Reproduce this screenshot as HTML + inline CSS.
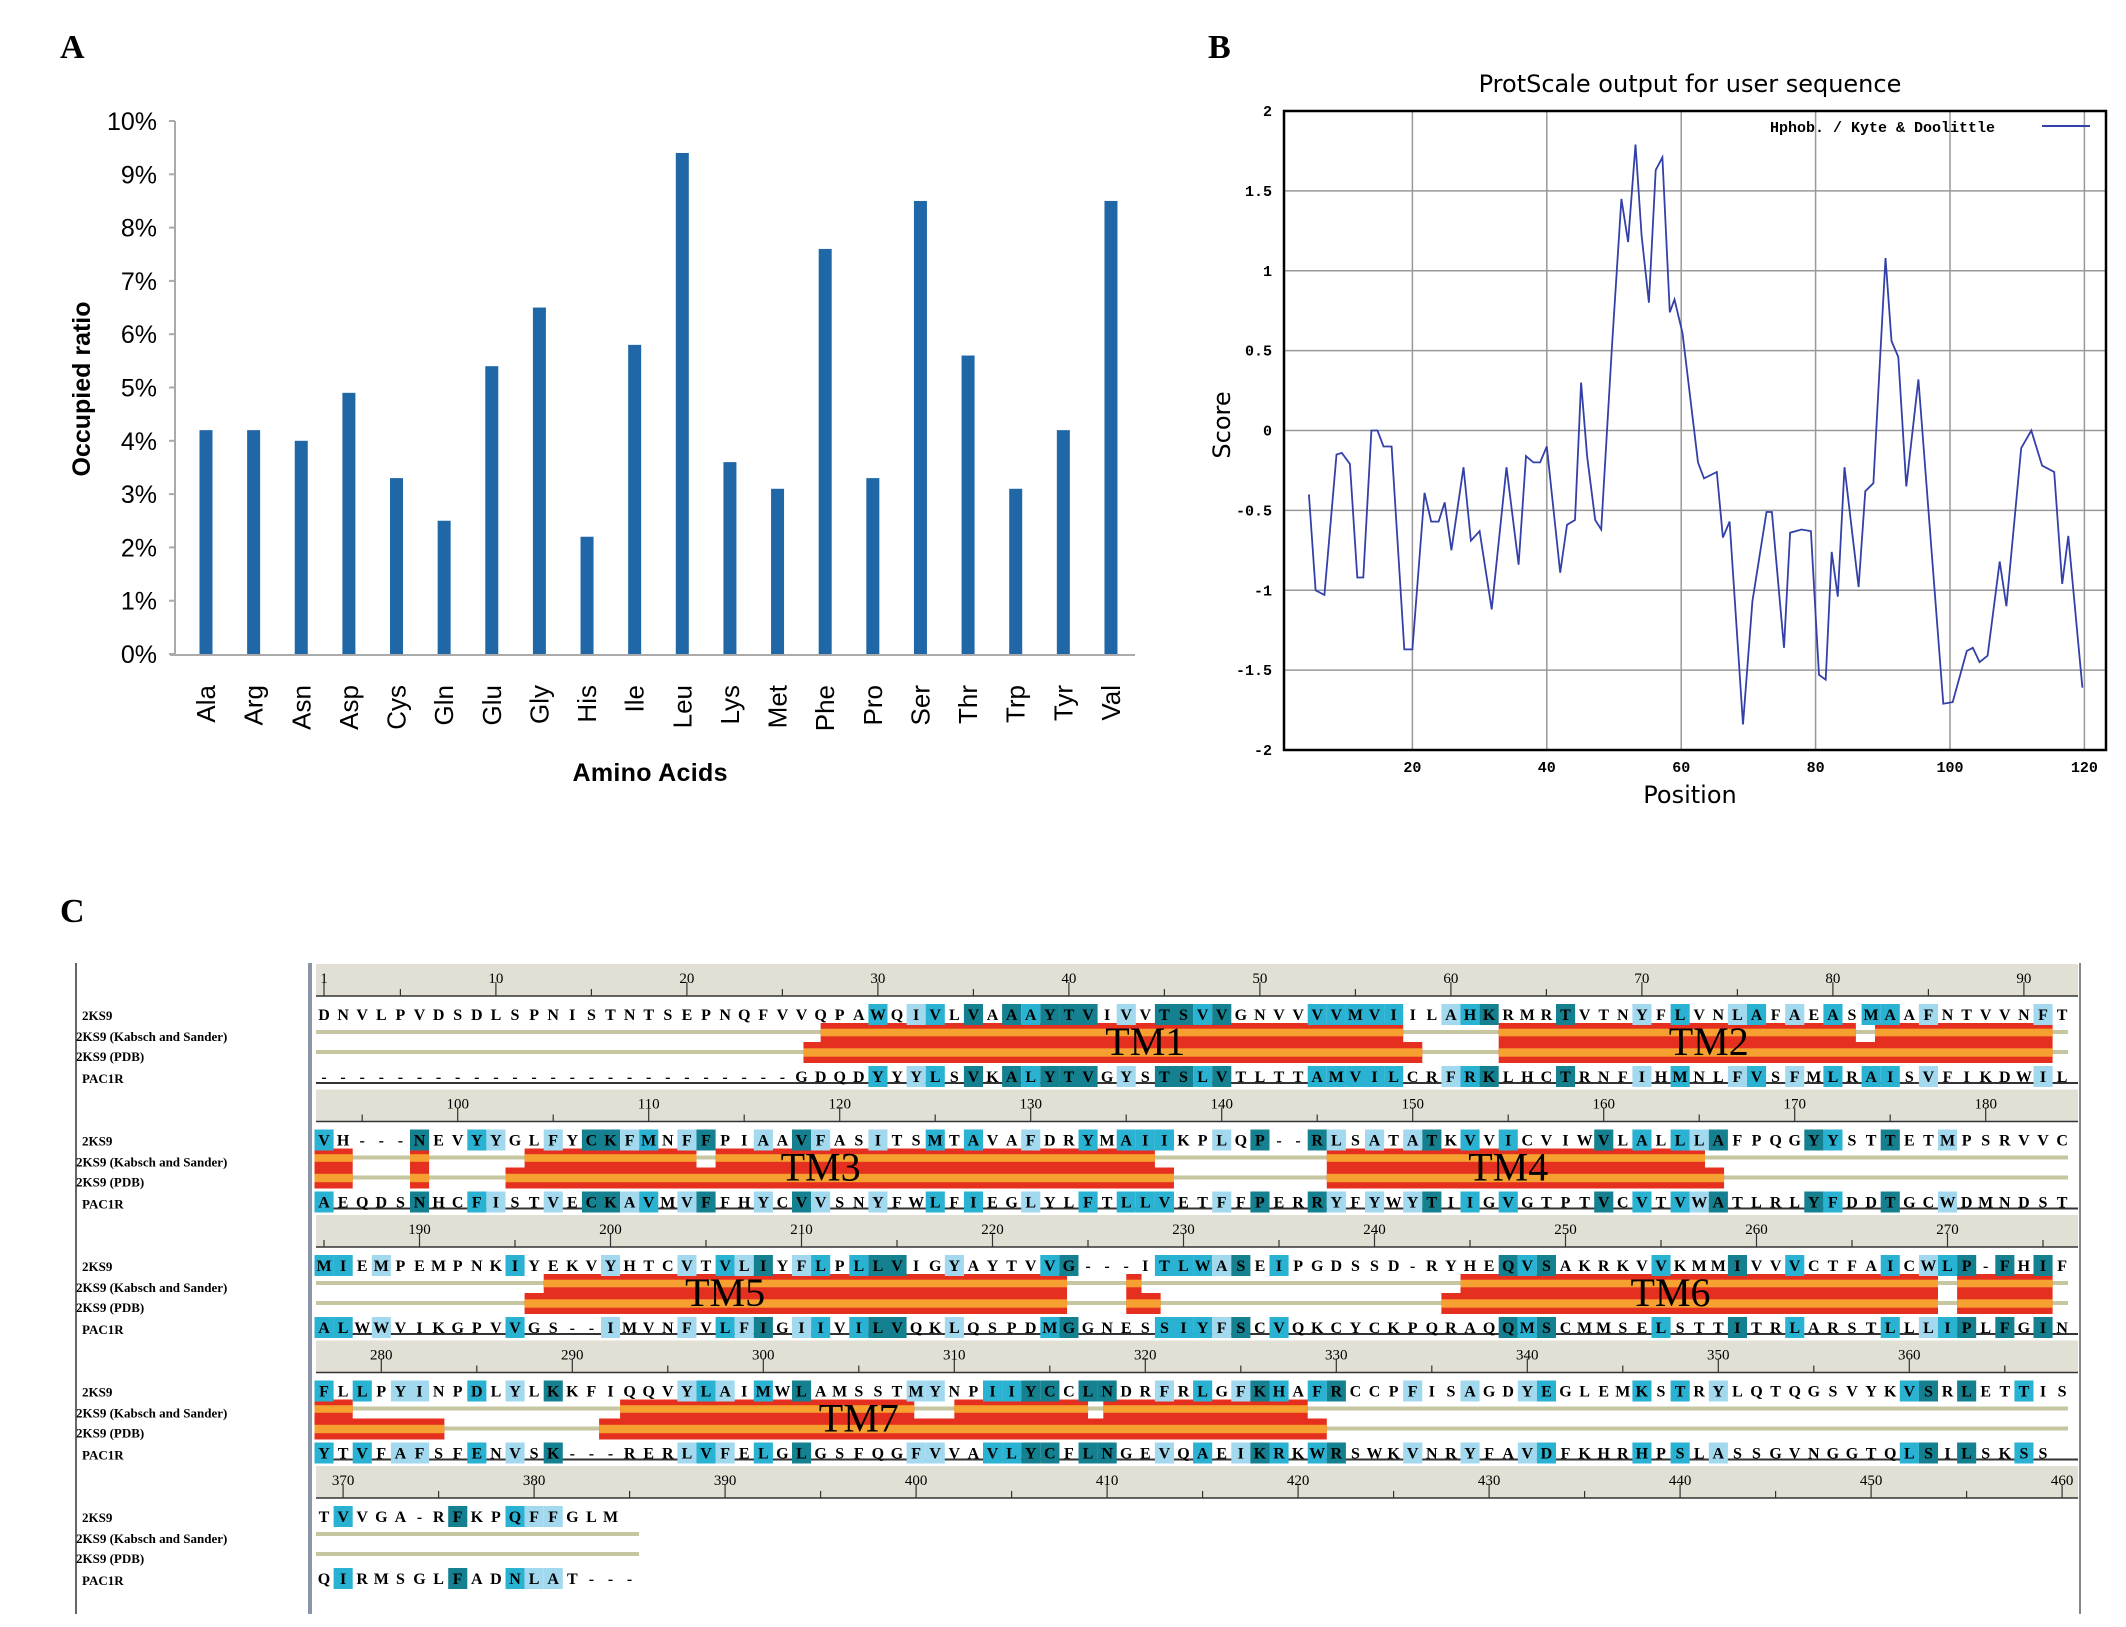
<!DOCTYPE html>
<html><head><meta charset="utf-8"><style>
body{margin:0;background:#fff}
svg{display:block}
</style></head><body>
<svg id="fig" width="2126" height="1627" viewBox="0 0 2126 1627" xmlns="http://www.w3.org/2000/svg">
<rect width="2126" height="1627" fill="#fff"/>
<g id="pa"></g>
<g id="pb"></g>
<g id="pc"></g>
</svg>
<script>
const NS='http://www.w3.org/2000/svg';
// Panel A data
const aaCategories=['Ala','Arg','Asn','Asp','Cys','Gln','Glu','Gly','His','Ile','Leu','Lys','Met','Phe','Pro','Ser','Thr','Trp','Tyr','Val'];
const aaValues=[4.2,4.2,4.0,4.9,3.3,2.5,5.4,6.5,2.2,5.8,9.4,3.6,3.1,7.6,3.3,8.5,5.6,3.1,4.2,8.5];
const aaTicks=[0,1,2,3,4,5,6,7,8,9,10];
// Panel B data
const hPositions=[4.6,5.6,6.9,8.7,9.5,10.7,11.8,12.7,13.9,14.8,15.7,16.9,18.8,20,21.8,22.8,23.9,24.8,25.8,27.6,28.7,30,31.8,34,35.8,36.9,38,39,40,42,43,44.2,45.1,46,47.2,48.1,49.7,51.1,52.1,53.2,54.1,55.2,56.2,57.2,58.3,59,60.2,62.5,63.4,65.3,66.2,67.2,69.2,70.6,72.7,73.5,75.3,76.2,77.9,79.3,80.5,81.5,82.4,83.3,84.3,86.4,87.4,88.6,90.4,91.3,92.3,93.5,95.3,99,100.4,102.5,103.4,104.4,105.6,107.4,108.4,110.6,112.1,113.7,115.5,116.7,117.6,119.7];
const hScores=[-0.4,-1.0,-1.03,-0.15,-0.14,-0.21,-0.92,-0.92,0.0,0.0,-0.1,-0.1,-1.37,-1.37,-0.39,-0.57,-0.57,-0.45,-0.75,-0.23,-0.69,-0.63,-1.12,-0.23,-0.84,-0.16,-0.2,-0.2,-0.1,-0.89,-0.59,-0.56,0.3,-0.16,-0.56,-0.62,0.53,1.45,1.18,1.79,1.22,0.8,1.63,1.71,0.74,0.82,0.61,-0.2,-0.3,-0.26,-0.67,-0.57,-1.84,-1.07,-0.51,-0.51,-1.36,-0.64,-0.62,-0.63,-1.53,-1.56,-0.76,-1.04,-0.23,-0.98,-0.38,-0.33,1.08,0.56,0.46,-0.35,0.32,-1.71,-1.7,-1.38,-1.36,-1.45,-1.41,-0.82,-1.1,-0.11,0,-0.22,-0.26,-0.96,-0.66,-1.61];
const bxTicks=[20,40,60,80,100,120];
const byTicks=[-2,-1.5,-1,-0.5,0,0.5,1,1.5,2];
const byLabels=['-2','-1.5','-1','-0.5','0','0.5','1','1.5','2'];

function el(tag,attrs,parent,text){const e=document.createElementNS(NS,tag);for(const k in attrs)e.setAttribute(k,attrs[k]);if(text!==undefined)e.textContent=text;parent.appendChild(e);return e;}

// ---------- Panel A ----------
const pa=document.getElementById('pa');
const ay=v=>654-v*53.3;
const ax=i=>206+i*47.63;
let t=el('text',{x:60,y:58,'font-family':'Liberation Serif, serif','font-weight':'bold','font-size':34},pa,'A');

let l=el('line',{x1:175,y1:121,x2:175,y2:655,stroke:'#aaa','stroke-width':2},pa);

l=el('line',{x1:170,y1:655,x2:1135,y2:655,stroke:'#aaa','stroke-width':2},pa);

aaTicks.forEach(v=>{
  const tk=el('line',{x1:169,y1:ay(v),x2:175,y2:ay(v),stroke:'#aaa','stroke-width':2},pa);
  
  const tl=el('text',{x:157,y:ay(v)+9,'text-anchor':'end','font-family':'Liberation Sans, sans-serif','font-size':25},pa,v+'%');
  
});
aaCategories.forEach((c,i)=>{
  const b=el('rect',{x:ax(i)-6.5,y:ay(aaValues[i]),width:13,height:ay(0)-ay(aaValues[i]),fill:'#1f67a6'},pa);
  
  const tl=el('text',{x:0,y:0,transform:`translate(${ax(i)+9},${685}) rotate(-90)`,'text-anchor':'end','font-family':'Liberation Sans, sans-serif','font-size':26},pa,c);
  
});
t=el('text',{x:0,y:0,transform:'translate(90,389) rotate(-90)','text-anchor':'middle','font-family':'Liberation Sans, sans-serif','font-weight':'bold','font-size':25},pa,'Occupied ratio');

t=el('text',{x:650,y:781,'text-anchor':'middle','font-family':'Liberation Sans, sans-serif','font-weight':'bold','font-size':25,'textLength':155},pa,'Amino Acids');


// ---------- Panel B ----------
const pb=document.getElementById('pb');
const bL=1284,bR=2106,bT=111,bB=750;
const bx=p=>1278+p*6.72;
const by=s=>430.5-s*159.75;
t=el('text',{x:1208,y:58,'font-family':'Liberation Serif, serif','font-weight':'bold','font-size':34},pb,'B');

t=el('text',{x:1690,y:92,'text-anchor':'middle','font-family':'DejaVu Sans, sans-serif','font-size':24},pb,'ProtScale output for user sequence');

bxTicks.forEach(p=>{
  const g=el('line',{x1:bx(p),y1:bT,x2:bx(p),y2:bB,stroke:'#999','stroke-width':1.5},pb);
  
  const tl=el('text',{x:bx(p),y:bB+22,'text-anchor':'middle','font-family':'Liberation Mono, monospace','font-weight':'bold','font-size':15},pb,String(p));
  
});
byTicks.forEach((s,i)=>{
  const g=el('line',{x1:bL,y1:by(s),x2:bR,y2:by(s),stroke:'#999','stroke-width':1.5},pb);
  
  const tl=el('text',{x:bL-12,y:by(s)+5,'text-anchor':'end','font-family':'Liberation Mono, monospace','font-weight':'bold','font-size':15},pb,byLabels[i]);
  
});
const fr=el('rect',{x:bL,y:bT,width:bR-bL,height:bB-bT,fill:'none',stroke:'#000','stroke-width':2.5},pb);

const pts=hPositions.map((p,i)=>bx(p).toFixed(1)+','+by(hScores[i]).toFixed(1)).join(' ');
const pl=el('polyline',{points:pts,fill:'none',stroke:'#3340a8','stroke-width':1.8},pb);

t=el('text',{x:1770,y:132,'font-family':'Liberation Mono, monospace','font-weight':'bold','font-size':15},pb,'Hphob. / Kyte & Doolittle');

l=el('line',{x1:2042,y1:126,x2:2090,y2:126,stroke:'#3340a8','stroke-width':2},pb);

t=el('text',{x:0,y:0,transform:'translate(1230,425) rotate(-90)','text-anchor':'middle','font-family':'DejaVu Sans, sans-serif','font-size':24},pb,'Score');

t=el('text',{x:1690,y:803,'text-anchor':'middle','font-family':'DejaVu Sans, sans-serif','font-size':24},pb,'Position');


// ---------- Panel C ----------
const pc=document.getElementById('pc');
const seqTop=[
"DNVLPVDSDLSPNISTNTSEPNQFVVQPAWQIVLVAAAYTVIVVTSVVGNVVVVMVIILAHKRMRTVTNYFLVNLAFAEASMAAFNTVVNFTYA",
"VH---NEVYYGLFYCKFMNFFPIAAVFASITSMTAVAFDRYMAIIKPLQP--RLSATATKVVICVIWVLALLLAFPQGYYSTTETMPSRVVC",
"MIEMPEMPNKIYEKVYHTCVTVLIYFLPLLVIGYAYTVVG---ITLWASEIPGDSSD-RYHEQVSAKRKVVKMMIVVVCTFAICWLP-FHIF",
"FLLPYINPDLYLKKFIQQVYLAIMWLAMSSTMYNPIIYCCLNDRFRLGFKHAFRCCPFISAGDYEGLEMKSTRYLQTQGSVYKVSRLETTIS",
"TVVGA-RFKPQFFGLM"];
const seqBot=[
"-------------------------GDQDYYYLSVKALYTVGYSTSLVTLTTAMVILCRFRKLHCTRNFIHMNLFVSFMLRAISVFIKDWILY",
"AEQDSNHCFISTVECKAVMVFFHYCVVSNYFWLFIEGLYLFTLLVETFFPERRYFYWYTIIGVGTPTVCVTVWATLRLYFDDTGCWDMNDST",
"ALWWVIKGPVVGS--IMVNFVLFIGIIVILVQKLQSPDMGGNESSIYFSCVQKCYCKPQRAQQMSCMMSELSTTITRLARSTLLLIPLFGIN",
"YTVFAFSFENVSK---RERLVFELGLGSFQGFVVAVLYCFLNGEVQAEIKRKWRSWKVNRYFAVDFKHRHPSLASSGVNGGTQLSILSKSS",
"QIRMSGLFADNLAT---"];
// helix segments per block: [startCol,endCol] in column units
const ksHelix=[[[26.5,57],[62,80.7],[81.7,91]],[[0,2],[5,6],[11,20],[21,44],[53,72.8]],[[12,39.4],[42.5,43.3],[60,85],[86,91]],[[0,2],[16,31.4],[33.5,40.5],[41.3,52]],[]];
const pdbHelix=[[[25.6,58],[62,91]],[[0,2],[5,6],[10,45],[53,73.8]],[[11,39.4],[42.5,44.3],[59,85],[86,91]],[[0,6.8],[14.9,53]],[]];
const tmLabels=[[['TM1',43],['TM2',72.5]],[['TM3',26],['TM4',62]],[['TM5',21],['TM6',70.5]],[['TM7',28]],[]];
const blockStarts=[1,93,185,277,369];

const colX=c=>324+c*19.1;
const groups=['AVLIM','FWY','ST','KRH','DE','NQ','G','P','C'];
const grp=ch=>groups.findIndex(g=>g.includes(ch));
el('line',{x1:76,y1:963,x2:76,y2:1614,stroke:'#666','stroke-width':2},pc);
el('rect',{x:308,y:963,width:4,height:651,fill:'#8a96a8'},pc);
el('line',{x1:2080,y1:963,x2:2080,y2:1614,stroke:'#888','stroke-width':2},pc);
t=el('text',{x:60,y:922,'font-family':'Liberation Serif, serif','font-weight':'bold','font-size':34},pc,'C');


for(let b=0;b<5;b++){
  const T=960+b*125.5;
  const g=el('g',{},pc);
  
  el('rect',{x:316,y:T+4,width:1762,height:32,fill:'#e2e0d4'},g);
  el('line',{x1:316,y1:T+36,x2:2078,y2:T+36,stroke:'#333','stroke-width':1.5},g);
  if(b<4) el('line',{x1:316,y1:T+123,x2:2078,y2:T+123,stroke:'#333','stroke-width':2},g);
  for(let c=0;c<92;c++){
    const n=blockStarts[b]+c;
    if(n%5===0||n===1){
      el('line',{x1:colX(c),y1:T+(n%10===0||n===1?22:29),x2:colX(c),y2:T+36,stroke:'#333','stroke-width':1.2},g);
    }
    if(n%10===0||n===1){
      const rl=el('text',{x:colX(c),y:T+23,'text-anchor':'middle','font-family':'Liberation Serif, serif','font-size':15},g,String(n));
      
    }
  }
  const labs=[['2KS9',T+60],['2KS9 (Kabsch and Sander)',T+81],['2KS9 (PDB)',T+101],['PAC1R',T+123]];
  labs.forEach(([s,y],i)=>{
    const x=(i===0||i===3)?82:76;
    const rl=el('text',{x:x,y:y,'font-family':'Liberation Serif, serif','font-weight':'bold','font-size':13},g,s);
    
  });
  const top=seqTop[b].slice(0,92),bot=seqBot[b].slice(0,92);
  const n=Math.max(top.length,bot.length);
  const endX=Math.min(colX(n-1)+9.5,2068);
  el('rect',{x:316,y:T+70,width:endX-316,height:4,fill:'#c6c6a0'},g);
  el('rect',{x:316,y:T+90,width:endX-316,height:4,fill:'#c6c6a0'},g);
  const drawH=(segs,y0,h,name)=>segs.forEach(([a,e])=>{
    const x=colX(a)-9.5,w=Math.min((e-a)*19.1,2068-x);
    const r=el('rect',{x:x,y:y0,width:w,height:h,fill:'#e6301f'},g);
    
    el('rect',{x:x,y:y0+h*0.3,width:w,height:h*0.4,fill:'#f5a030'},g);
  });
  drawH(ksHelix[b],T+63,19,'ks-helix');
  drawH(pdbHelix[b],T+82,21,'pdb-helix');
  tmLabels[b].forEach(([s,c])=>{
    const tl=el('text',{x:colX(c),y:T+95,'text-anchor':'middle','font-family':'Liberation Serif, serif','font-size':40},g,s);
    
  });
  for(let c=0;c<n;c++){
    const a=top[c]||'',z=bot[c]||'';
    let col=null;
    if(a&&z&&a!=='-'&&z!=='-'){
      if(a===z) col='#15808f';
      else if(grp(a)===grp(z)&&grp(a)>=0) col='#2ab2d3';
      else if('AVLIMFWY'.includes(a)&&'AVLIMFWY'.includes(z)) col='#a3d9ee';
    }
    [[a,T+44],[z,T+106]].forEach(([ch,y])=>{
      if(!ch)return;
      if(col){el('rect',{x:colX(c)-9.5,y:y,width:19.1,height:21,fill:col},g);}
      const ct=el('text',{x:colX(c),y:y+16,'text-anchor':'middle','font-family':'Liberation Serif, serif','font-weight':'bold','font-size':16},g,ch);
      
      
    });
  }
}
</script>
</body></html>
